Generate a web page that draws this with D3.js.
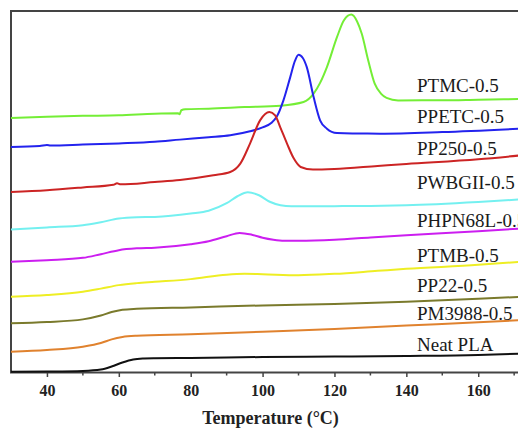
<!DOCTYPE html>
<meta charset="utf-8">
<html>
  <head>
    <style>
      body { margin: 0; background: #fff; }
      text { font-family: "Liberation Serif", "Times New Roman", serif; }
    </style>
  </head>
  <body>
    <div id="chart"></div>
  </body>
<script src="https://d3js.org/d3.v7.min.js"></script>
<script>
// DSC heating curves, heat flow in arbitrary units (curves stacked by offset)

var xTicks = [40, 60, 80, 100, 120, 140, 160]
var xMinor = [50, 70, 90, 110, 130, 150, 170]

var names = ["PTMC-0.5", "PPETC-0.5", "PP250-0.5", "PWBGII-0.5", "PHPN68L-0.5",
             "PTMB-0.5", "PP22-0.5", "PM3988-0.5", "Neat PLA"]
var colors = ["#74ee36", "#2323ee", "#cc2424", "#74f0f0", "#cc1ef0",
              "#eeee24", "#7a7a2c", "#e0822e", "#111111"]

// [temperature, heat flow]
var ptmc = [[30,254.8],[40,256.2],[50,257],[60,257.5],[70,259.2],[76.5,259.6],[76.9,258.6],[77.4,262.6],[78.5,263.6],
  [85,264.2],[95,265.8],[105,267.2],[111.4,270.8],[114.2,279.2],[116,290],[117.9,305.8],[120.7,335.8],
  [122.6,352.5],[124.7,358.4],[126.3,351.5],[127.6,339.2],[129.4,312.5],[131.2,289.2],[133,279],[134.5,275],
  [137.7,272.5],[150,272.6],[160,273.2],[172,273.9]]
var ppetc = [[30,225.8],[38,226.8],[40,227.8],[41,227.2],[50,228.2],[60,229.4],[70,231],[77,233.2],[85,235.5],
  [91,237.5],[96.5,241.5],[100,245.5],[102.5,250],[104,256.5],[105.8,272.5],[107.7,295.8],[109,312],
  [110,318.2],[111.2,315],[112.3,305.8],[114.2,275.8],[116,252.5],[117.9,244.2],[120.7,239.8],[125,239.3],
  [132.7,239.2],[150,240.8],[172,244.2]]
var pp250 = [[30,180.8],[40,182.5],[50,185.3],[58.5,188],[59.5,189.5],[60.5,188.4],[70,190.8],[77,192.8],
  [86.3,197.5],[91,200.8],[93.8,209.2],[96.5,229.2],[99.3,252.5],[101.9,260.8],[103.5,257.5],[104.9,245.8],
  [106.8,229.2],[108.7,214.2],[110.6,205.8],[114,203.2],[120,203.8],[132,206.8],[140,208.8],[160,213.5],[172,217.5]]
var pwbgii = [[30,143.2],[40,145.3],[50,147.5],[55,150.5],[60,154.2],[65,155.5],[70,155.8],[80,159.2],
  [85,162],[90,169.5],[93,176.5],[95.9,180.5],[99,177.5],[102,171],[105,167.5],[108,166.5],[120,166.6],
  [130,166.8],[140,167.5],[160,170.8],[172,173.4]]
var phpn68l = [[30,110.8],[40,112.5],[50,114.8],[55,118.5],[60,122.5],[65,124.3],[70,125],[80,128.5],
  [85,131.5],[90,136.5],[93.6,139.8],[97,138],[100,135],[103,133],[106,132],[110,132],[120,133],
  [130,135.3],[140,137.5],[160,141.5],[172,144.2]]
var ptmb = [[30,75.8],[40,77.5],[50,80.8],[55,84],[60,87.5],[65,89.5],[70,90.8],[80,93.5],[90,98],
  [95,98.8],[100,98.4],[110,97.4],[120,98.8],[132,101.8],[140,103.8],[160,107.8],[172,111]]
var pp22 = [[30,49.2],[40,50.5],[50,53.2],[55,57],[58,60.5],[61,62.8],[65,63.8],[80,65.2],[100,67.2],
  [120,68.6],[140,70.8],[160,73.8],[172,75.8]]
var pm3988 = [[30,20.8],[40,22.5],[50,25.8],[55,29.5],[58,33.2],[61,35.6],[65,36.8],[80,38.2],[100,40.8],
  [120,43.5],[140,47],[160,50.2],[172,52.5]]
var neatPla = [[30,0.8],[40,1],[50,1.6],[55,3],[58,6],[61,10],[64,13],[67,14],[70,14.3],[80,14.6],
  [100,15.5],[120,16],[140,16.6],[160,17.6],[172,19]]

var series = [ptmc, ppetc, pp250, pwbgii, phpn68l, ptmb, pp22, pm3988, neatPla]
var labelY = [91.7, 123.3, 155, 189, 226.7, 261.7, 292.3, 320, 350.7]

var W = 518, H = 429
var margin = {top: 11, left: 11, bottom: 56.5}

var svg = d3.select("#chart").append("svg")
  .attr("width", W).attr("height", H)

var x = d3.scaleLinear().domain([30, 180]).range([margin.left, margin.left + 150 * 3.594])
var y = d3.scaleLinear().domain([0, 362]).range([H - margin.bottom, margin.top])

// frame
svg.append("rect")
  .attr("x", x(30)).attr("y", y(362))
  .attr("width", x(180) - x(30)).attr("height", y(0) - y(362))
  .style("fill", "none").style("stroke", "#444").style("stroke-width", 2)

// minor ticks
svg.selectAll(".minor").data(xMinor).enter().append("line")
  .attr("x1", function(d){ return x(d) }).attr("x2", function(d){ return x(d) })
  .attr("y1", y(0)).attr("y2", y(0) + 3)
  .style("stroke", "#444").style("stroke-width", 1.5)

var xAxis = svg.append("g")
  .attr("transform", "translate(0," + y(0) + ")")
  .call(d3.axisBottom(x).tickValues(xTicks).tickSize(4.5).tickPadding(8).tickFormat(d3.format("d")))
xAxis.select(".domain").remove()
xAxis.selectAll("line").style("stroke", "#444").style("stroke-width", 1.5)
xAxis.selectAll("text")
  .style("font-family", "'Liberation Serif', serif")
  .style("font-size", "16px").style("font-weight", "bold").style("fill", "#222")

svg.append("text")
  .attr("x", 270.5).attr("y", 424.3)
  .attr("text-anchor", "middle")
  .style("font-size", "18px").style("font-weight", "bold").style("fill", "#222")
  .text("Temperature (°C)")

var line = d3.line()
  .x(function(d){ return x(d[0]) })
  .y(function(d){ return y(d[1]) })
  .curve(d3.curveMonotoneX)

svg.selectAll(".curve").data(series).enter().append("path")
  .attr("d", line)
  .style("fill", "none")
  .style("stroke", function(d, i){ return colors[i] })
  .style("stroke-width", 2)

svg.selectAll(".label").data(names).enter().append("text")
  .attr("x", 417)
  .attr("y", function(d, i){ return labelY[i] })
  .style("font-size", "19px").style("fill", "#1a1a1a")
  .text(function(d){ return d })
</script>
</html>
